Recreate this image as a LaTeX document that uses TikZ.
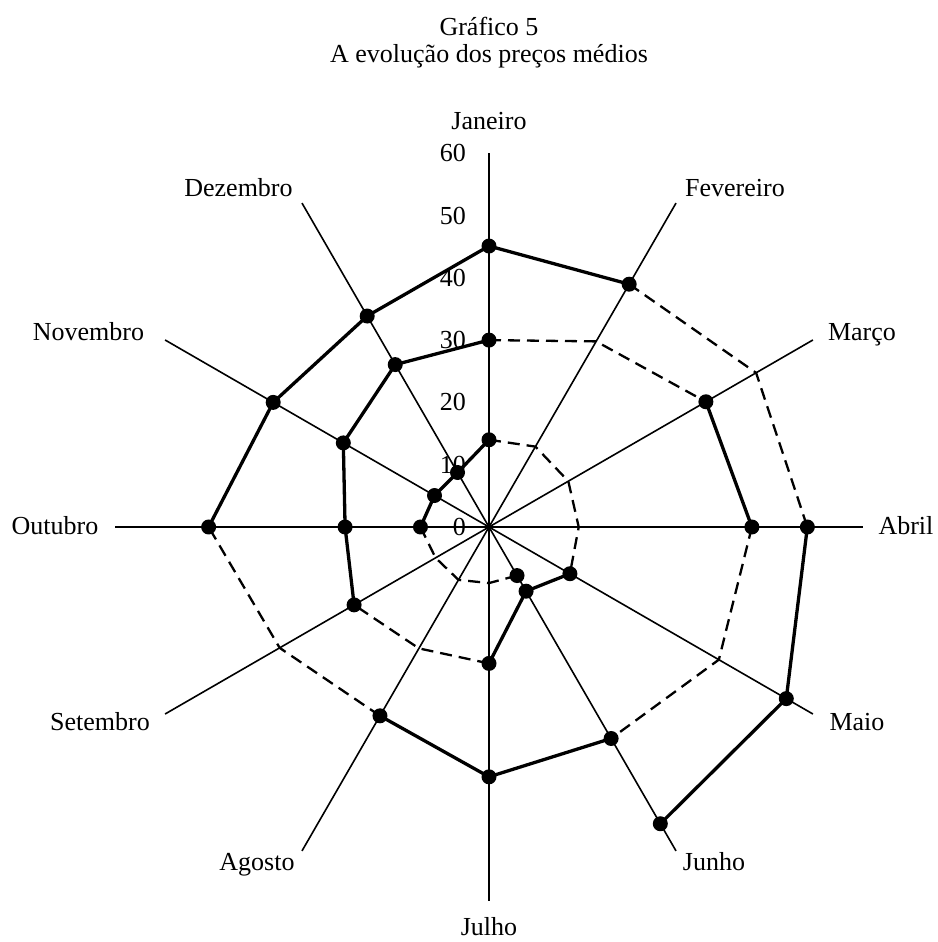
\documentclass[tikz,border=0pt]{standalone}
\usepackage{fontspec}
\setmainfont{Liberation Serif}
\begin{document}
\begin{tikzpicture}[x=1pt,y=1pt,
  every node/.style={font=\fontsize{26}{31}\selectfont, inner sep=0pt},
  axisline/.style={line width=1.6pt},
  serieline/.style={line width=3.3pt, line join=round, line cap=round},
  gapline/.style={line width=2.3pt, dash pattern=on 12pt off 7pt, line join=round},
  datadot/.style={circle, fill=black, minimum size=15pt, inner sep=0pt},
  monthlab/.style={anchor=base},
  ticklab/.style={anchor=east}]
\useasboundingbox (-489,-415) rectangle (448,527);
% titles
\node[anchor=base] (title1) at (0,491) {Gráfico 5};
\node[anchor=base] (title2) at (0,464) {A evolução dos preços médios};
% centre and axes
\coordinate (O) at (0,0);
\foreach \k in {0,...,11} {
  \coordinate (a\k) at ({90-30*\k}:374);
  \draw[axisline] (O) -- (a\k);
}
% month labels
\node[monthlab] (lab0) at (0,397) {Janeiro};
\node[monthlab] (lab1) at (246,330) {Fevereiro};
\node[monthlab] (lab2) at (373,186) {Março};
\node[monthlab] (lab3) at (417,-8) {Abril};
\node[monthlab] (lab4) at (368,-203) {Maio};
\node[monthlab] (lab5) at (225,-343) {Junho};
\node[monthlab] (lab6) at (0,-408) {Julho};
\node[monthlab] (lab7) at (-232,-343) {Agosto};
\node[monthlab] (lab8) at (-389,-203) {Setembro};
\node[monthlab] (lab9) at (-434,-8) {Outubro};
\node[monthlab] (lab10) at (-400.5,186) {Novembro};
\node[monthlab] (lab11) at (-250.5,330) {Dezembro};
% tick labels
\foreach \t in {0,10,...,60} {
  \node[ticklab] (t\t) at (-23,{\t*6.23}) {\t};
}
% data points (index / month / value)
\foreach \i/\k/\v in {
  1/5/9.0, 2/6/9.0, 3/7/9.8, 4/8/9.9, 5/9/11.0, 6/10/10.1, 7/11/10.1,
  8/0/14.0, 9/1/14.9, 10/2/14.7, 11/3/14.4, 12/4/15.0, 13/5/11.9,
  14/6/21.9, 15/7/22.5, 16/8/25.0, 17/9/23.1, 18/10/27.0, 19/11/30.1,
  20/0/30.0, 21/1/34.4, 22/2/40.2, 23/3/42.2, 24/4/42.6, 25/5/39.2,
  26/6/40.1, 27/7/35.0, 28/8/38.8, 29/9/45.0, 30/10/40.0, 31/11/39.1,
  32/0/45.1, 33/1/45.0, 34/2/49.5, 35/3/51.1, 36/4/55.1, 37/5/55.0} {
  \coordinate (p\i) at ({90-30*\k}:{\v*6.23});
}
% interpolated (missing) stretches
\draw[gapline] (p1) -- (p2) -- (p3) -- (p4) -- (p5);
\draw[gapline] (p8) -- (p9) -- (p10) -- (p11) -- (p12);
\draw[gapline] (p14) -- (p15) -- (p16);
\draw[gapline] (p20) -- (p21) -- (p22);
\draw[gapline] (p23) -- (p24) -- (p25);
\draw[gapline] (p27) -- (p28) -- (p29);
\draw[gapline] (p33) -- (p34) -- (p35);
% observed stretches
\draw[serieline] (p5) -- (p6) -- (p7) -- (p8);
\draw[serieline] (p12) -- (p13) -- (p14);
\draw[serieline] (p16) -- (p17) -- (p18) -- (p19) -- (p20);
\draw[serieline] (p22) -- (p23);
\draw[serieline] (p25) -- (p26) -- (p27);
\draw[serieline] (p29) -- (p30) -- (p31) -- (p32) -- (p33);
\draw[serieline] (p35) -- (p36) -- (p37);
% dots
\foreach \i in {1,5,6,7,8,12,13,14,16,17,18,19,20,22,23,25,26,27,29,30,31,32,33,35,36,37} {
  \node[datadot] (d\i) at (p\i) {};
}
\end{tikzpicture}
\end{document}
